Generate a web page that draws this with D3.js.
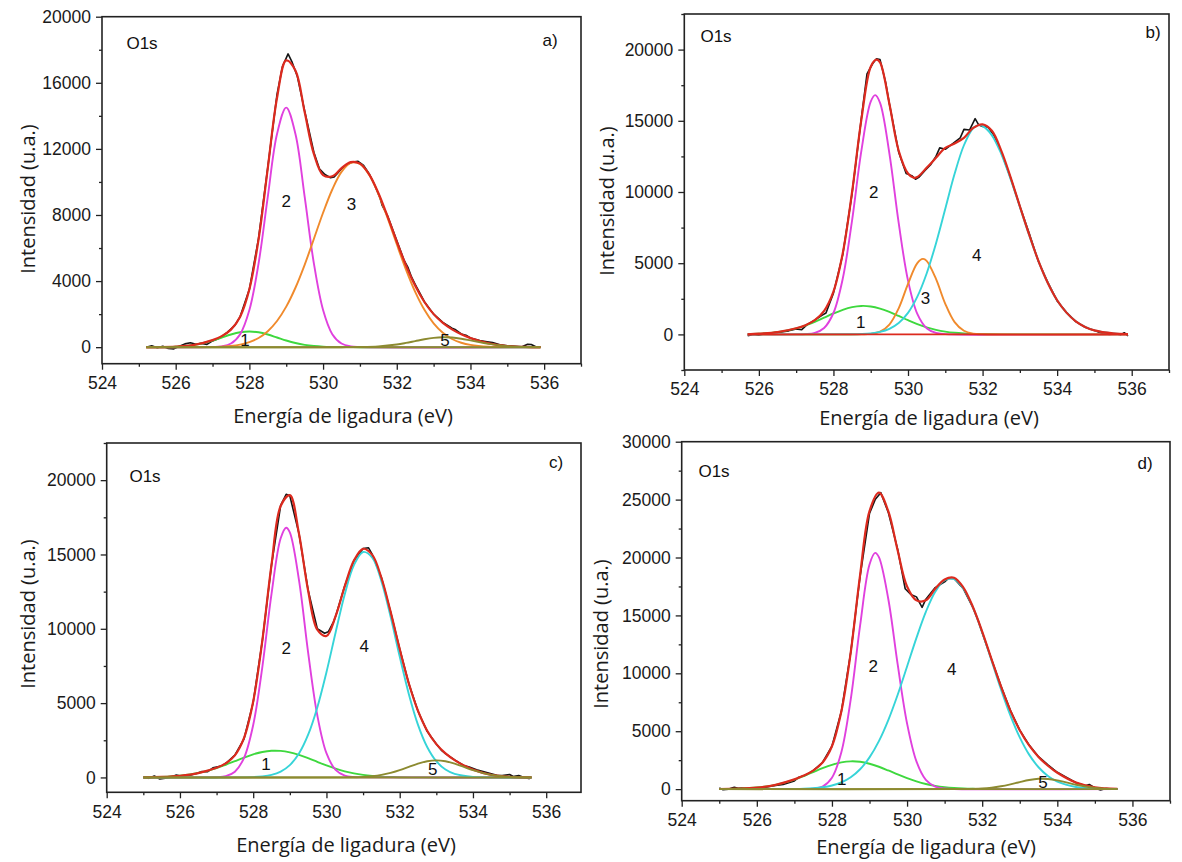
<!DOCTYPE html>
<html><head><meta charset="utf-8">
<script src="https://cdnjs.cloudflare.com/ajax/libs/d3/7.8.5/d3.min.js"></script>
<style>body{margin:0;background:#fff}svg{display:block}</style>
</head><body><svg id="chart" width="1182" height="862"></svg>
<script>
// ---------- shared tick values ----------
const xMajor = [524, 526, 528, 530, 532, 534, 536];
const xMinor = [525, 527, 529, 531, 533, 535, 537];
const aYMajor = [0, 4000, 8000, 12000, 16000, 20000];
const aYMinor = [2000, 6000, 10000, 14000, 18000];
const bYMajor = [0, 5000, 10000, 15000, 20000];
const bYMinor = [-2500, 2500, 7500, 12500, 17500, 22500];
const cYMajor = [0, 5000, 10000, 15000, 20000];
const cYMinor = [2500, 7500, 12500, 17500, 22500];
const dYMajor = [0, 5000, 10000, 15000, 20000, 25000, 30000];
const dYMinor = [2500, 7500, 12500, 17500, 22500, 27500];
const panelTags = ["a)", "b)", "c)", "d)"];

// ---------- panel a ----------
const aRaw = [[525.2,0],[525.35,80],[525.5,-30],[525.65,60],[525.8,-80],[525.95,-100],[526.1,50],[526.25,200],[526.4,270],[526.55,180],[526.7,230],[526.85,170],[527.0,380],[527.2,560],[527.4,900],[527.6,1300],[527.75,1850],[528.0,3500],[528.25,6600],[528.5,10900],[528.75,15300],[528.9,17000],[529.05,17750],[529.15,17300],[529.3,16400],[529.5,14300],[529.75,11800],[529.9,10800],[530.05,10450],[530.2,10250],[530.3,10300],[530.4,10550],[530.5,10800],[530.65,11050],[530.8,11200],[530.95,11250],[531.1,11000],[531.25,10500],[531.4,9800],[531.55,9000],[531.6,8600],[531.75,7950],[532.0,6450],[532.2,5250],[532.3,4850],[532.4,4250],[532.5,3800],[532.75,2750],[533.0,2000],[533.25,1500],[533.5,1150],[533.6,1050],[533.75,800],[533.9,700],[534.0,560],[534.25,400],[534.45,330],[534.6,280],[534.8,150],[535.0,80],[535.2,50],[535.4,20],[535.55,180],[535.65,160],[535.8,0],[535.9,20]];
const aFit = [[525.2,0],[525.5,4],[526,31],[526.5,138],[527,429],[527.25,671],[527.5,1063],[527.75,1847],[528,3503],[528.25,6533],[528.5,10841],[528.75,15076],[529,17357],[529.25,16751],[529.5,14229],[529.75,11693],[530,10412],[530.25,10343],[530.5,10830],[530.75,11199],[531,11107],[531.25,10458],[531.5,9335],[531.75,7913],[532,6391],[532.25,4951],[532.5,3712],[532.75,2735],[533,2000],[533.25,1468],[533.5,1079],[533.75,782],[534,550],[534.5,229],[535,70],[535.5,14],[535.9,3]];
const aPeak1 = [[525.2,1],[525.5,4],[526,31],[526.5,138],[527,404],[527.25,587],[527.5,767],[527.75,900],[528,950],[528.25,900],[528.5,767],[528.75,587],[529,404],[529.25,250],[529.5,138],[529.75,69],[530,31],[530.5,4],[531,0],[535.9,0]];
const aPeak2 = [[525.2,0],[527,9],[527.25,48],[527.5,219],[527.75,789],[528,2248],[528.25,5075],[528.5,9106],[528.75,12905],[529,14500],[529.25,12905],[529.5,9106],[529.75,5075],[530,2248],[530.25,789],[530.5,219],[530.75,48],[531,9],[535.9,0]];
const aPeak3 = [[525.2,0],[527,16],[527.25,36],[527.5,77],[527.75,158],[528,305],[528.25,558],[528.5,968],[528.75,1584],[529,2453],[529.25,3596],[529.5,4985],[529.75,6549],[530,8133],[530.25,9542],[530.5,10607],[530.75,11151],[531,11088],[531.25,10433],[531.5,9285],[531.75,7818],[532,6227],[532.25,4693],[532.5,3345],[532.75,2259],[533,1440],[533.25,870],[533.5,497],[533.75,269],[534,138],[534.5,30],[535,5],[535.9,0]];
const aPeak5 = [[525.2,0],[530.5,0],[531,10],[531.5,50],[532,164],[532.25,258],[532.5,367],[532.75,476],[533,560],[533.25,598],[533.5,582],[533.75,513],[534,412],[534.5,199],[535,65],[535.5,14],[535.9,3]];
const aBase = [[525.2,0],[535.9,0]];
const aLabels = [["1",527.88,440],["2",529.0,8840],["3",530.77,8680],["5",533.31,440]];

// ---------- panel b ----------
const bRaw = [[525.7,-100],[525.85,0],[526.0,-50],[526.2,60],[526.4,120],[526.6,180],[526.8,250],[527.0,380],[527.15,330],[527.3,700],[527.5,1000],[527.7,1350],[527.8,1500],[528.0,2900],[528.25,5600],[528.5,9900],[528.75,15200],[528.9,18300],[529.05,19000],[529.15,19350],[529.25,19300],[529.4,17700],[529.5,16200],[529.75,12800],[529.95,11300],[530.1,11150],[530.2,10900],[530.3,11050],[530.45,11500],[530.6,11900],[530.75,12500],[530.85,13100],[531.0,13000],[531.2,13400],[531.4,13800],[531.5,14400],[531.65,14350],[531.8,15150],[531.9,14700],[532.0,14600],[532.15,14550],[532.3,14000],[532.5,12800],[532.75,11000],[533.0,9000],[533.25,7100],[533.5,5100],[533.75,3650],[534.0,2350],[534.25,1550],[534.5,900],[534.75,500],[535.0,280],[535.2,80],[535.4,0],[535.55,50],[535.7,-30],[535.8,120],[535.9,-100]];
const bFit = [[525.7,0],[526,50],[526.5,160],[527,430],[527.25,650],[527.5,1000],[527.75,1650],[528,3000],[528.25,5700],[528.5,10000],[528.75,15100],[529,18800],[529.15,19300],[529.25,19100],[529.5,16200],[529.75,12900],[530,11300],[530.15,11000],[530.25,11050],[530.5,11700],[530.75,12400],[531,13100],[531.25,13400],[531.5,13800],[531.75,14500],[532,14750],[532.25,14300],[532.5,12900],[532.75,11050],[533,9000],[533.25,7000],[533.5,5150],[533.75,3610],[534,2400],[534.25,1530],[534.5,920],[534.75,525],[535,285],[535.5,72],[535.9,20]];
const bPeak1 = [[525.7,20],[526,46],[526.5,157],[527,420],[527.25,629],[527.5,886],[527.75,1176],[528,1470],[528.25,1729],[528.5,1916],[528.75,1999],[529,1962],[529.25,1815],[529.5,1580],[529.75,1294],[530,1000],[530.25,727],[530.5,497],[530.75,321],[531,195],[531.25,111],[531.5,60],[531.75,30],[532,14],[532.5,2],[535.9,0]];
const bPeak2 = [[525.7,0],[527,3],[527.25,20],[527.5,107],[527.75,452],[528,1503],[528.25,3918],[528.5,8014],[528.75,12905],[529,16341],[529.12,16800],[529.25,16262],[529.5,12718],[529.75,7830],[530,3784],[530.25,1435],[530.5,430],[530.75,101],[531,19],[535.9,0]];
const bPeak3 = [[525.7,0],[528.75,5],[529,38],[529.25,190],[529.5,691],[529.75,1830],[530,3547],[530.25,5009],[530.4,5300],[530.5,5168],[530.75,3896],[531,2147],[531.25,861],[531.5,253],[531.75,54],[532,8],[535.9,0]];
const bPeak4 = [[525.7,0],[528.5,10],[528.75,29],[529,74],[529.25,178],[529.5,393],[529.75,803],[530,1514],[530.25,2650],[530.5,4280],[530.75,6390],[531,8823],[531.25,11275],[531.5,13283],[531.75,14495],[531.9,14700],[532,14641],[532.25,13980],[532.5,12686],[532.75,10925],[533,8956],[533.25,6963],[533.5,5145],[533.75,3610],[534,2406],[534.25,1526],[534.5,919],[534.75,525],[535,285],[535.5,72],[535.9,20]];
const bBase = [[525.7,0],[535.9,0]];
const bLabels = [["1",528.73,890],["2",529.08,10030],["3",530.47,2530],["4",531.84,5580]];

// ---------- panel c ----------
const cRaw = [[525,0],[525.15,-60],[525.3,100],[525.45,-100],[525.6,-50],[525.75,20],[525.9,160],[526.05,80],[526.25,130],[526.45,260],[526.6,400],[526.75,380],[526.9,650],[527.0,700],[527.15,780],[527.3,1050],[527.5,1500],[527.75,2600],[528,5050],[528.25,9200],[528.5,14300],[528.75,18300],[528.9,19050],[529.0,18950],[529.25,16400],[529.5,12600],[529.75,10000],[529.95,9700],[530.05,9800],[530.2,10500],[530.25,10850],[530.5,12900],[530.75,14600],[531.0,15400],[531.15,15450],[531.25,15000],[531.5,13450],[531.75,11150],[532,8650],[532.25,6300],[532.5,4450],[532.75,3100],[532.85,2750],[533.0,2250],[533.15,1800],[533.25,1600],[533.5,1180],[533.75,800],[533.9,700],[534.1,520],[534.3,380],[534.5,250],[534.65,150],[534.8,120],[535.0,200],[535.1,60],[535.25,130],[535.4,0],[535.55,-80]];
const cFit = [[525,9],[525.5,35],[526,113],[526.5,295],[527,646],[527.25,942],[527.5,1484],[527.75,2657],[528,5108],[528.25,9221],[528.5,14308],[528.75,18261],[529,18993],[529.25,16394],[529.5,12565],[529.75,9942],[530,9519],[530.25,10848],[530.5,12863],[530.75,14590],[531,15381],[531.25,14970],[531.5,13434],[531.75,11155],[532,8637],[532.25,6317],[532.5,4472],[532.75,3140],[533,2240],[533.25,1620],[533.5,1165],[533.75,811],[534,526],[534.5,172],[535,37],[535.6,3]];
const cPeak1 = [[525,9],[525.5,35],[526,113],[526.5,295],[527,630],[527.25,853],[527.5,1096],[527.75,1337],[528,1553],[528.25,1712],[528.5,1793],[528.75,1784],[529,1685],[529.25,1514],[529.5,1292],[529.75,1047],[530,806],[530.25,590],[530.5,410],[530.75,271],[531,170],[531.25,101],[531.5,57],[531.75,31],[532,16],[532.5,4],[533,0],[535.6,0]];
const cPeak2 = [[525,0],[526.75,2],[527,16],[527.25,89],[527.5,388],[527.75,1320],[528,3531],[528.25,7442],[528.5,12348],[528.75,16088],[528.9,16800],[529,16481],[529.25,13272],[529.5,8400],[529.75,4183],[530,1630],[530.25,504],[530.5,121],[530.75,24],[531,4],[535.6,0]];
const cPeak4 = [[525,0],[528,24],[528.25,67],[528.5,167],[528.75,389],[529,827],[529.25,1608],[529.5,2873],[529.75,4712],[530,7083],[530.25,9754],[530.5,12327],[530.75,14280],[531,15170],[531.25,14785],[531.5,13209],[531.75,10822],[532,8132],[532.25,5604],[532.5,3540],[532.75,2050],[533,1090],[533.25,530],[533.5,237],[534,37],[534.5,4],[535.6,0]];
const cPeak5 = [[525,0],[530.5,5],[530.75,15],[531,37],[531.25,84],[531.5,168],[531.75,302],[532,489],[532.25,711],[532.5,928],[532.75,1090],[533,1150],[533.25,1090],[533.5,928],[533.75,711],[534,489],[534.5,168],[535,37],[535.6,3]];
const cBase = [[525,0],[535.6,0]];
const cLabels = [["1",528.35,880],["2",528.9,8700],["4",531.03,8820],["5",532.9,560]];

// ---------- panel d ----------
const dRaw = [[525,100],[525.1,-50],[525.25,0],[525.4,150],[525.5,80],[525.6,100],[525.75,50],[525.9,120],[526.1,80],[526.3,200],[526.5,320],[526.7,400],[526.85,550],[527,700],[527.1,1000],[527.3,1200],[527.5,1600],[527.75,2300],[528,3700],[528.25,6700],[528.5,11800],[528.75,18400],[529,23800],[529.15,25000],[529.3,25600],[529.5,23900],[529.75,20700],[529.95,17300],[530.1,16800],[530.25,16600],[530.4,15700],[530.5,16400],[530.75,17400],[531,17900],[531.1,18200],[531.25,18200],[531.5,17300],[531.75,15700],[531.9,14500],[532,13500],[532.25,11200],[532.5,8900],[532.75,6800],[533,5100],[533.25,3800],[533.5,2800],[533.75,2100],[533.9,1700],[534,1450],[534.2,1100],[534.5,550],[534.75,300],[534.85,400],[535,100],[535.15,-80],[535.3,50],[535.45,0],[535.6,20]];
const dFit = [[525,9],[525.5,40],[526,130],[526.5,370],[527,840],[527.25,1170],[527.5,1600],[527.75,2300],[528,3700],[528.25,6700],[528.5,11800],[528.75,18500],[529,24000],[529.25,25600],[529.5,24000],[529.75,20600],[530,17500],[530.25,16300],[530.5,16300],[530.75,17300],[531,18100],[531.25,18250],[531.5,17400],[531.75,15750],[532,13600],[532.25,11200],[532.5,8870],[532.75,6780],[533,5080],[533.25,3770],[533.5,2780],[533.75,2020],[534,1410],[534.5,560],[535,150],[535.6,20]];
const dPeak1 = [[525,9],[525.5,39],[526,134],[526.5,372],[527,826],[527.25,1133],[527.5,1471],[527.75,1807],[528,2098],[528.25,2306],[528.5,2398],[528.75,2358],[529,2193],[529.25,1932],[529.5,1609],[529.75,1267],[530,945],[530.25,667],[530.5,444],[530.75,281],[531,167],[531.25,94],[531.5,51],[531.75,26],[532,12],[532.5,2],[533,0],[535.6,0]];
const dPeak2 = [[525,0],[527,0],[527.25,5],[527.5,40],[527.75,228],[528,987],[528.25,3183],[528.5,7752],[528.75,14137],[529,19400],[529.15,20400],[529.25,20030],[529.5,16420],[529.75,10770],[530,5670],[530.25,2390],[530.5,800],[530.75,220],[531,50],[531.25,8],[535.6,0]];
const dPeak4 = [[525,0],[527,14],[527.25,33],[527.5,76],[527.75,158],[528,311],[528.25,579],[528.5,1023],[528.75,1714],[529,2739],[529.25,4141],[529.5,5961],[529.75,8150],[530,10589],[530.25,13059],[530.5,15304],[530.75,17042],[531,18033],[531.25,18127],[531.5,17308],[531.75,15707],[532,13532],[532.25,11084],[532.5,8621],[532.75,6368],[533,4470],[533.25,2979],[533.5,1889],[533.75,1138],[534,650],[534.5,182],[535,42],[535.6,5]];
const dPeak5 = [[525,0],[531.5,8],[532,56],[532.25,125],[532.5,243],[532.75,412],[533,610],[533.25,788],[533.5,890],[533.75,878],[534,757],[534.5,374],[535,108],[535.6,12]];
const dBase = [[525,0],[535.6,0]];
const dLabels = [["1",528.26,860],["2",529.1,10650],["4",531.19,10360],["5",533.62,580]];

// ---------- styles ----------
const C = {raw:"#151515", fit:"#dc2a1e", green:"#3ed83e", magenta:"#e040de", orange:"#f08a2c", cyan:"#36d4d8", olive:"#8c8a30"};

const panels = [
  {raw:aRaw, fit:aFit, comps:[[aPeak1,C.green],[aPeak2,C.magenta],[aPeak3,C.orange]], after:[[aBase,C.olive],[aPeak5,C.olive]],
   labels:aLabels, yMajor:aYMajor, yMinor:aYMinor, yDom:[-1000,20000], xDom:[524,537],
   box:{l:102,r:581,t:16.7,b:363.7}, xt:[343,416], yt:[28,199], o1s:[142,43.5], tag:[550,40]},
  {raw:bRaw, fit:bFit, comps:[[bPeak1,C.green],[bPeak2,C.magenta],[bPeak3,C.orange],[bPeak4,C.cyan]], after:[[bBase,C.fit]],
   labels:bLabels, yMajor:bYMajor, yMinor:bYMinor, yDom:[-2500,22500], xDom:[524,537],
   box:{l:684.3,r:1169,t:14,b:370}, xt:[929,418], yt:[607,201], o1s:[716,36.5], tag:[1153,32]},
  {raw:cRaw, fit:cFit, comps:[[cPeak1,C.green],[cPeak2,C.magenta],[cPeak4,C.cyan]], after:[[cBase,C.olive],[cPeak5,C.olive]],
   labels:cLabels, yMajor:cYMajor, yMinor:cYMinor, yDom:[-1000,22500], xDom:[524,536.95],
   box:{l:106.7,r:581,t:443,b:792.3}, xt:[346,845], yt:[28,614], o1s:[145,476], tag:[556,462]},
  {raw:dRaw, fit:dFit, comps:[[dPeak1,C.green],[dPeak2,C.magenta],[dPeak4,C.cyan]], after:[[dBase,C.olive],[dPeak5,C.olive]],
   labels:dLabels, yMajor:dYMajor, yMinor:dYMinor, yDom:[-1000,30000], xDom:[524,537],
   box:{l:681.7,r:1170,t:441.7,b:800.7}, xt:[926,847], yt:[601,634], o1s:[714,471], tag:[1145,463]}
];

const svg = d3.select("#chart");
const tickFont = "'Liberation Sans', Arial, sans-serif";
const titleFont = "'Open Sans', 'Noto Sans', sans-serif";

panels.forEach((p, i) => {
  const x = d3.scaleLinear().domain(p.xDom).range([p.box.l, p.box.r]);
  const y = d3.scaleLinear().domain(p.yDom).range([p.box.b, p.box.t]);
  const g = svg.append("g");

  const styleAxis = (sel) => {
    sel.select(".domain").remove();
    sel.selectAll(".tick line").attr("stroke", "#222").attr("stroke-width", 1.3);
    sel.selectAll("text").attr("font-family", tickFont).attr("font-size", 17.5).attr("fill", "#1a1a1a");
  };
  g.append("g").attr("transform", `translate(0,${p.box.b})`)
    .call(d3.axisBottom(x).tickValues(xMajor).tickSize(6).tickPadding(7).tickFormat(d3.format("d")))
    .call(styleAxis);
  g.append("g").attr("transform", `translate(0,${p.box.b})`)
    .call(d3.axisBottom(x).tickValues(xMinor.filter(v => v <= p.xDom[1])).tickSize(3).tickFormat(""))
    .call(styleAxis);
  g.append("g").attr("transform", `translate(${p.box.l},0)`)
    .call(d3.axisLeft(y).tickValues(p.yMajor).tickSize(6).tickPadding(5).tickFormat(d3.format("d")))
    .call(styleAxis);
  g.append("g").attr("transform", `translate(${p.box.l},0)`)
    .call(d3.axisLeft(y).tickValues(p.yMinor).tickSize(3).tickFormat(""))
    .call(styleAxis);

  g.append("rect").attr("x", p.box.l).attr("y", p.box.t)
    .attr("width", p.box.r - p.box.l).attr("height", p.box.b - p.box.t)
    .attr("fill", "none").attr("stroke", "#222").attr("stroke-width", 1.6);

  const smooth = d3.line().x(d => x(d[0])).y(d => y(d[1])).curve(d3.curveCatmullRom.alpha(0.5));
  const linear = d3.line().x(d => x(d[0])).y(d => y(d[1]));

  g.append("path").attr("d", linear(p.raw)).attr("fill", "none").attr("stroke", C.raw).attr("stroke-width", 1.6).attr("stroke-linejoin", "round");
  p.comps.forEach(([data, col]) => {
    g.append("path").attr("d", smooth(data)).attr("fill", "none").attr("stroke", col).attr("stroke-width", 1.9);
  });
  g.append("path").attr("d", smooth(p.fit)).attr("fill", "none").attr("stroke", C.fit).attr("stroke-width", 2.2);
  p.after.forEach(([data, col]) => {
    g.append("path").attr("d", smooth(data)).attr("fill", "none").attr("stroke", col).attr("stroke-width", 1.9);
  });

  p.labels.forEach(([t, lx, ly]) => {
    g.append("text").attr("x", x(lx)).attr("y", y(ly)).attr("dy", "0.35em")
      .attr("text-anchor", "middle").attr("font-family", tickFont).attr("font-size", 17).attr("fill", "#111").text(t);
  });

  g.append("text").attr("x", p.o1s[0]).attr("y", p.o1s[1]).attr("dy", "0.35em").attr("text-anchor", "middle")
    .attr("font-family", tickFont).attr("font-size", 17).attr("fill", "#111").text("O1s");
  g.append("text").attr("x", p.tag[0]).attr("y", p.tag[1]).attr("dy", "0.35em").attr("text-anchor", "middle")
    .attr("font-family", tickFont).attr("font-size", 17).attr("fill", "#111").text(panelTags[i]);

  g.append("text").attr("x", p.xt[0]).attr("y", p.xt[1]).attr("dy", "0.35em").attr("text-anchor", "middle")
    .attr("font-family", titleFont).attr("font-size", 20).attr("fill", "#1a1a1a").text("Energía de ligadura (eV)");
  g.append("text").attr("transform", `translate(${p.yt[0]},${p.yt[1]}) rotate(-90)`).attr("dy", "0.35em")
    .attr("text-anchor", "middle").attr("font-family", titleFont).attr("font-size", 20).attr("fill", "#1a1a1a")
    .text("Intensidad (u.a.)");
});
</script>
</body></html>
